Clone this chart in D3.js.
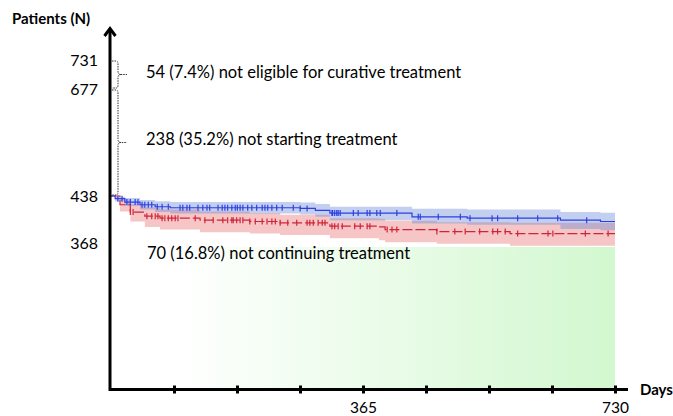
<!DOCTYPE html>
<html>
<head>
<meta charset="utf-8">
<script src="https://cdn.jsdelivr.net/npm/d3@7"></script>
<style>
  body { margin: 0; background: #fff; }
  text { font-family: Lato, "Open Sans", sans-serif; }
</style>
</head>
<body>
<div id="vis"></div>
<script>
// declare constants
const FRAME_WIDTH = 673
const FRAME_HEIGHT = 416

// patient counts on the (schematic) y axis
const yTicks = [368, 438, 677, 731]
const xTickDays = [0, 91.25, 182.5, 273.75, 365, 456.25, 547.5, 638.75, 730]
const xTickLabels = [365, 730]

// annotations: bracket from / to, text
const bracketFrom = [731, 677]
const bracketTo = [677, 438]
const bracketText = ["54 (7.4%) not eligible for curative treatment",
                     "238 (35.2%) not starting treatment"]
const notContText = "70 (16.8%) not continuing treatment"

// blue group: step curve with confidence band
const blueDays  = [0, 6, 20, 42, 64, 86, 274, 296, 317, 436, 516, 651, 709, 730]
const blueEst   = [438, 434, 429, 425, 422, 420.5, 419.5, 416.5, 412.5, 407, 405, 402, 400, 400]
const blueUpper = [438, 437, 435, 432, 430, 429, 428.5, 426, 422, 419, 418, 414, 413, 413]
const blueLower = [438, 430, 423, 418, 414, 412, 410.5, 407, 402, 397, 395, 389, 387, 387]
const blueCensor = [10, 16, 23, 28, 35, 39, 45, 49, 54, 59, 67, 74, 83, 100, 104, 110, 114, 126,
  133, 139, 143, 155, 161, 165, 169, 175, 180, 183, 187, 191, 198, 204, 211, 219, 223, 227, 233,
  240, 248, 264, 274, 284, 320, 321, 324, 327, 329, 332, 351, 358, 371, 375, 385, 390, 414, 445,
  448, 474, 506, 520, 552, 560, 589, 618, 647, 689]

// red group
const redDays  = [0, 13, 28, 49, 71, 129, 201, 245, 317, 388, 397, 472, 578, 730]
const redEst   = [438, 425, 414, 408, 405, 402, 400, 398, 393, 392, 388, 385, 382, 382]
const redUpper = [438, 433, 426, 421, 418, 415, 412.5, 410, 405, 404, 401, 399, 398, 398]
const redLower = [438, 415, 400, 392, 388, 384, 382, 380, 375, 372, 369, 366, 361, 361]
const redCensor = [28, 32, 52, 59, 64, 68, 74, 78, 83, 88, 93, 97, 122, 136, 148, 162, 169, 175,
  177, 182, 187, 191, 201, 209, 219, 226, 233, 238, 245, 256, 269, 284, 288, 293, 300, 306, 310,
  320, 324, 329, 335, 353, 361, 371, 375, 400, 407, 414, 472, 498, 513, 534, 553, 560, 571, 589,
  633, 640, 687, 720]

// green "not continuing" zone
const greenFromDay = 93
const greenTop = 358

const svg = d3.select('#vis')
  .append('svg')
  .attr('width', FRAME_WIDTH)
  .attr('height', FRAME_HEIGHT)

// scales (y axis is schematic, so piecewise)
const x = d3.scaleLinear().domain([0, 730]).range([111, 615])
const y = d3.scaleLinear()
  .domain([0, 368, 438, 677, 731])
  .range([389.5, 243, 196, 89, 60])

// gradient for green zone
const grad = svg.append('defs').append('linearGradient')
  .attr('id', 'greenGrad')
  .attr('x1', '0%').attr('x2', '100%')
grad.append('stop').attr('offset', '0%').attr('stop-color', '#ffffff')
grad.append('stop').attr('offset', '100%').attr('stop-color', '#d2f8cf')

svg.append('rect')
  .attr('x', x(greenFromDay))
  .attr('y', y(greenTop))
  .attr('width', x(730) - x(greenFromDay))
  .attr('height', y(0) - y(greenTop))
  .attr('fill', 'url(#greenGrad)')

// helper to zip arrays
const zip = (days, a, b) => days.map((d, i) => ({day: d, a: a[i], b: b ? b[i] : null}))

const band = d3.area()
  .curve(d3.curveStepAfter)
  .x(d => x(d.day))
  .y0(d => y(d.b))
  .y1(d => y(d.a))

const line = d3.line()
  .curve(d3.curveStepAfter)
  .x(d => x(d.day))
  .y(d => y(d.a))

// step-curve value lookup for censor ticks
function valueAt(days, est, day) {
  const i = d3.bisectRight(days, day) - 1
  return est[Math.max(0, i)]
}

// bands
svg.append('path')
  .datum(zip(redDays, redUpper, redLower))
  .attr('d', band)
  .attr('fill', 'rgba(232, 110, 110, 0.4)')

svg.append('path')
  .datum(zip(blueDays, blueUpper, blueLower))
  .attr('d', band)
  .attr('fill', 'rgba(110, 140, 215, 0.42)')

// lines
svg.append('path')
  .datum(zip(redDays, redEst))
  .attr('d', line)
  .attr('fill', 'none')
  .attr('stroke', '#d0243a')
  .attr('stroke-width', 1.2)
  .attr('stroke-dasharray', '10,3')

svg.append('path')
  .datum(zip(blueDays, blueEst))
  .attr('d', line)
  .attr('fill', 'none')
  .attr('stroke', '#2f3fe6')
  .attr('stroke-width', 1.2)

// censor marks
svg.selectAll('.cRed')
  .data(redCensor)
  .enter()
  .append('line')
  .attr('x1', d => x(d)).attr('x2', d => x(d))
  .attr('y1', d => y(valueAt(redDays, redEst, d)) - 3)
  .attr('y2', d => y(valueAt(redDays, redEst, d)) + 3)
  .attr('stroke', '#d0243a')
  .attr('stroke-width', 1.2)

svg.selectAll('.cBlue')
  .data(blueCensor)
  .enter()
  .append('line')
  .attr('x1', d => x(d)).attr('x2', d => x(d))
  .attr('y1', d => y(valueAt(blueDays, blueEst, d)) - 3)
  .attr('y2', d => y(valueAt(blueDays, blueEst, d)) + 3)
  .attr('stroke', '#2f3fe6')
  .attr('stroke-width', 1.2)

// x axis
const xAxis = svg.append('g')
  .attr('transform', 'translate(0,' + y(0) + ')')
  .call(d3.axisBottom(x).tickValues(xTickDays.slice(1)).tickSize(0).tickFormat(''))
xAxis.select('.domain').remove()
xAxis.append('line')
  .attr('x1', 109).attr('x2', 628)
  .attr('stroke', '#000').attr('stroke-width', 3)
xAxis.selectAll('.tick').append('line')
  .attr('y1', -4).attr('y2', 4)
  .attr('stroke', '#000').attr('stroke-width', 3)
xAxis.selectAll('.tick')
  .filter(d => xTickLabels.includes(d))
  .append('text')
  .attr('y', 18)
  .attr('dy', '0.35em')
  .attr('text-anchor', 'middle')
  .attr('fill', '#000')
  .attr('font-size', '15.5px')
  .text(d => d)

svg.append('text')
  .attr('x', 640).attr('y', y(0))
  .attr('dy', '0.35em')
  .attr('font-size', '15px')
  .attr('font-weight', 'bold')
  .text('Days')

// y axis
const yAxis = svg.append('g')
  .attr('transform', 'translate(110,0)')
  .call(d3.axisLeft(y).tickValues(yTicks).tickSize(0).tickPadding(12))
yAxis.select('.domain').remove()
yAxis.selectAll('text')
  .attr('font-size', '16px')
  .attr('font-family', 'Lato, sans-serif')
  .attr('fill', '#000')
yAxis.append('line')
  .attr('y1', y(0) + 1.5).attr('y2', 29)
  .attr('stroke', '#000').attr('stroke-width', 3)
yAxis.append('path')
  .attr('d', 'M-5.5,36 L0,28.5 L5.5,36')
  .attr('fill', 'none')
  .attr('stroke', '#000').attr('stroke-width', 3)

svg.append('text')
  .attr('x', 12).attr('y', 19)
  .attr('dy', '0.35em')
  .attr('font-size', '15px')
  .attr('font-weight', 'bold')
  .text('Patients (N)')

// curly brackets
bracketFrom.forEach((top, i) => {
  const y0 = y(top) + 1
  const y1 = y(bracketTo[i]) - 1
  const m = (y0 + y1) / 2
  svg.append('path')
    .attr('d', 'M112,' + y0 + ' L116,' + y0 + ' Q118,' + y0 + ' 118,' + (y0 + 3) +
      ' L118,' + (m - 3) + ' Q118,' + m + ' 121,' + m + ' L127,' + m +
      ' M121,' + m + ' Q118,' + m + ' 118,' + (m + 3) +
      ' L118,' + (y1 - 3) + ' Q118,' + y1 + ' 116,' + y1 + ' L112,' + y1)
    .attr('fill', 'none')
    .attr('stroke', '#333')
    .attr('stroke-width', 1)
    .attr('stroke-dasharray', '1.5,1')

  svg.append('text')
    .attr('x', 146)
    .attr('y', i === 0 ? 72 : 139)
    .attr('dy', '0.35em')
    .attr('font-size', '16.5px')
    .text(bracketText[i])
})

svg.append('text')
  .attr('x', 147).attr('y', 253)
  .attr('dy', '0.35em')
  .attr('font-size', '16.5px')
  .text(notContText)
</script>
</body>
</html>
